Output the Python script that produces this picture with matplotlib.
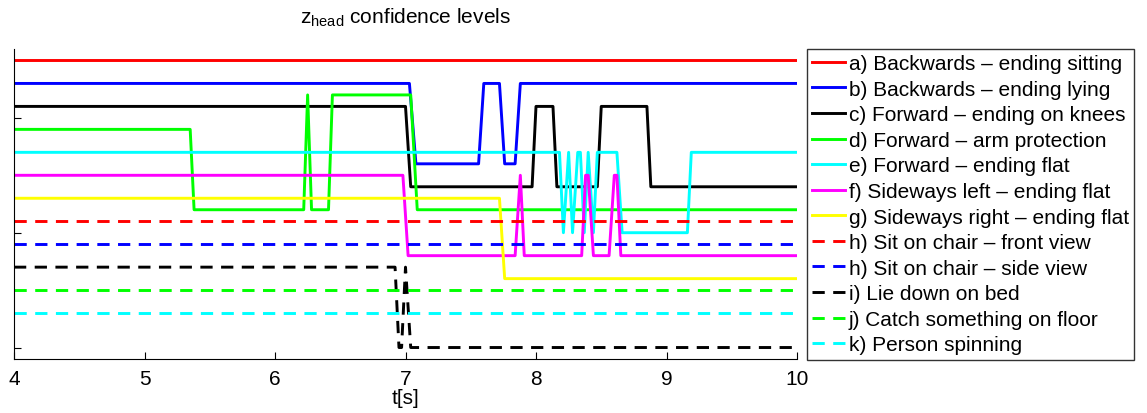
import matplotlib.pyplot as plt

plt.rcParams['font.family'] = ['Liberation Sans', 'DejaVu Sans']
plt.rcParams['mathtext.fontset'] = 'custom'
plt.rcParams['mathtext.rm'] = 'Liberation Sans'

# Confidence level traces (time in s, stacked level value)
t_a = [4, 10]
z_a = [2.5, 2.5]

t_b = [4, 7.03, 7.08, 7.56, 7.6, 7.72, 7.76, 7.84, 7.88, 10]
z_b = [2.3, 2.3, 1.6, 1.6, 2.3, 2.3, 1.6, 1.6, 2.3, 2.3]

t_c = [4, 7.0, 7.04, 7.97, 8.0, 8.13, 8.16, 8.47, 8.5, 8.85, 8.88, 10]
z_c = [2.1, 2.1, 1.4, 1.4, 2.1, 2.1, 1.4, 1.4, 2.1, 2.1, 1.4, 1.4]

t_d = [4, 5.35, 5.38, 6.22, 6.25, 6.28, 6.41, 6.44, 7.04, 7.09, 10]
z_d = [1.9, 1.9, 1.2, 1.2, 2.2, 1.2, 1.2, 2.2, 2.2, 1.2, 1.2]

t_e = [4, 8.18, 8.21, 8.25, 8.28, 8.32, 8.34, 8.37, 8.4, 8.44, 8.47,
       8.62, 8.66, 9.16, 9.19, 10]
z_e = [1.7, 1.7, 1.0, 1.7, 1.0, 1.7, 1.7, 1.0, 1.7, 1.0, 1.7,
       1.7, 1.0, 1.0, 1.7, 1.7]

t_f = [4, 6.98, 7.02, 7.84, 7.88, 7.91, 8.35, 8.38, 8.4, 8.44, 8.56,
       8.6, 8.62, 8.65, 10]
z_f = [1.5, 1.5, 0.8, 0.8, 1.5, 0.8, 0.8, 1.5, 1.5, 0.8, 0.8,
       1.5, 1.5, 0.8, 0.8]

t_g = [4, 7.72, 7.76, 10]
z_g = [1.3, 1.3, 0.6, 0.6]

t_h1 = [4, 10]
z_h1 = [1.1, 1.1]

t_h2 = [4, 10]
z_h2 = [0.9, 0.9]

t_i = [4, 6.92, 6.95, 6.97, 7.0, 7.04, 10]
z_i = [0.7, 0.7, 0.0, 0.0, 0.7, 0.0, 0.0]

t_j = [4, 10]
z_j = [0.5, 0.5]

t_k = [4, 10]
z_k = [0.3, 0.3]

series = [
    (t_a, z_a, '#ff0000', '-', 'a) Backwards – ending sitting'),
    (t_b, z_b, '#0000ff', '-', 'b) Backwards – ending lying'),
    (t_c, z_c, '#000000', '-', 'c) Forward – ending on knees'),
    (t_d, z_d, '#00ff00', '-', 'd) Forward – arm protection'),
    (t_e, z_e, '#00ffff', '-', 'e) Forward – ending flat'),
    (t_f, z_f, '#ff00ff', '-', 'f) Sideways left – ending flat'),
    (t_g, z_g, '#ffff00', '-', 'g) Sideways right – ending flat'),
    (t_h1, z_h1, '#ff0000', '--', 'h) Sit on chair – front view'),
    (t_h2, z_h2, '#0000ff', '--', 'h) Sit on chair – side view'),
    (t_i, z_i, '#000000', '--', 'i) Lie down on bed'),
    (t_j, z_j, '#00ff00', '--', 'j) Catch something on floor'),
    (t_k, z_k, '#00ffff', '--', 'k) Person spinning'),
]

fig = plt.figure(figsize=(11.47, 4.14), dpi=100)
ax = fig.add_axes([14 / 1147, 1 - 360 / 414, 783 / 1147, 310 / 414])

for t, z, color, ls, label in series:
    line, = ax.plot(t, z, color=color, linestyle=ls, linewidth=2.1, label=label)
    if ls == '--':
        line.set_dashes((4.2, 2.9))

ax.set_xlim(4, 10)
ax.set_ylim(-0.1, 2.6)
ax.set_yticks([0, 1, 2])
ax.set_yticklabels([])
ax.set_xticks([4, 5, 6, 7, 8, 9, 10])
ax.tick_params(direction='in', length=5, width=0.8, labelsize=15, pad=7)
ax.spines['top'].set_visible(False)
ax.spines['right'].set_visible(False)
ax.set_xlabel('t[s]', fontsize=15, labelpad=0)
ax.set_title(r'$\mathrm{z}_{\mathrm{head}}$ confidence levels', fontsize=15, pad=19)

# Legend sits to the right of the axes, outside the plot area
leg = ax.legend(loc='upper left', bbox_to_anchor=(807 / 1147, 1 - 50 / 414),
                bbox_transform=fig.transFigure, borderaxespad=0,
                fontsize=15, frameon=True, fancybox=False,
                handlelength=1.55, handletextpad=0.2, labelspacing=0.315,
                borderpad=0.25)
leg.get_frame().set_edgecolor('black')
leg.get_frame().set_linewidth(1.0)

fig.savefig('out.png', dpi=100)
